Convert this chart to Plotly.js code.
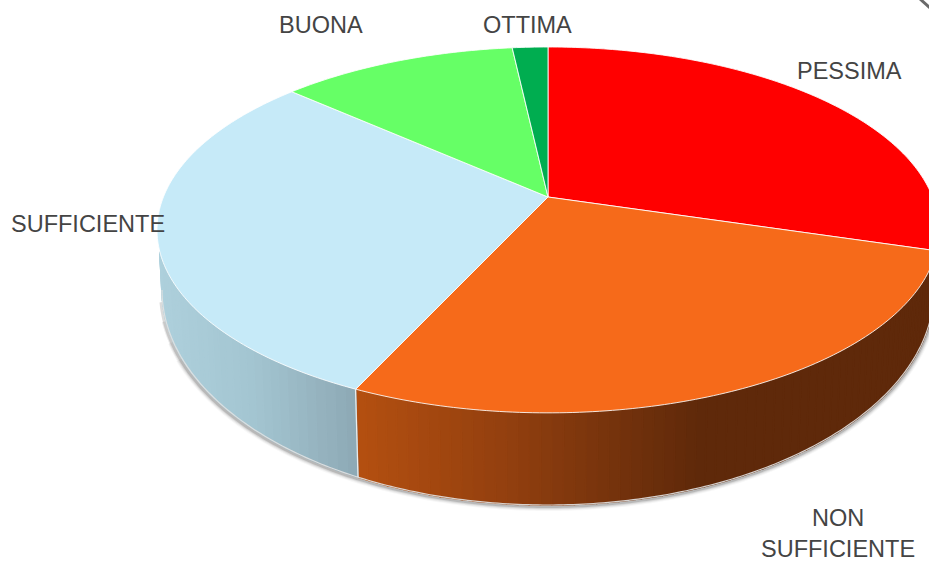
<!DOCTYPE html>
<html>
<head>
<meta charset="utf-8">
<script src="https://cdn.plot.ly/plotly-3.0.1.min.js"></script>
<style>html,body{margin:0;padding:0;background:#fff;overflow:hidden}#chart{width:929px;height:561px}</style>
</head>
<body>
<div id="chart"></div>
<script>
// Data (share of the pie, clockwise from 12 o'clock)
var categories = ["PESSIMA", "NON SUFFICIENTE", "SUFFICIENTE", "BUONA", "OTTIMA"];
var values = [29.65, 27.22, 29.73, 11.65, 1.75];
var topColors = ["#ff0000", "#f66a1a", "#c6eaf8", "#66ff66", "#00ad50"];
var labelText = ["PESSIMA", "NON<br>SUFFICIENTE", "SUFFICIENTE", "BUONA", "OTTIMA"];
var labelX = [849, 838, 88, 321, 527];
var labelY = [71, 533, 224, 25, 25];

// Shading of the visible outer wall: [pixel x, r, g, b]
var wallShades = {
  "NON SUFFICIENTE": [[360,179,79,16],[500,148,64,15],[620,115,50,12],[700,95,41,10],[940,95,41,10]],
  "SUFFICIENTE": [[157,174,208,220],[250,163,197,209],[300,153,184,196],[356,141,168,180]],
  "PESSIMA": [[900,120,0,0],[940,120,0,0]]
};

// Geometry of the projected disc, in plot units (axes below map them 1:1 to pixels)
var apexX = 548, apexY = 197, persp = 0.18, scaleB = 177, scaleA = 384.6;
var rimCy = 230, rimRx = 391, rimRy = 183;
var baseCy = 290, baseRx = 386, baseRy = 215;
var leftLimit = Math.PI - 0.12;

function rim(theta) {
  var u = Math.sin(theta), v = Math.cos(theta), d = 1 + persp * v;
  return [apexX + scaleA * u / d, apexY - scaleB * v / d];
}
function ellipseParam(p) {
  return Math.atan2((p[1] - rimCy) / rimRy, (p[0] - apexX) / rimRx);
}
function topAt(t) { return [apexX + rimRx * Math.cos(t), rimCy + rimRy * Math.sin(t)]; }
function baseAt(t) { return [apexX + baseRx * Math.cos(t), baseCy + baseRy * Math.sin(t)]; }
function shade(stops, x) {
  if (x <= stops[0][0]) return "rgb(" + stops[0].slice(1).join(",") + ")";
  for (var i = 1; i < stops.length; i++) {
    if (x <= stops[i][0]) {
      var f = (x - stops[i-1][0]) / (stops[i][0] - stops[i-1][0]), c = [];
      for (var j = 1; j < 4; j++) c.push(Math.round(stops[i-1][j] + f * (stops[i][j] - stops[i-1][j])));
      return "rgb(" + c.join(",") + ")";
    }
  }
  return "rgb(" + stops[stops.length-1].slice(1).join(",") + ")";
}

var total = values.reduce(function (a, b) { return a + b; }, 0);
var traces = [];
function poly(pts, fill, lineColor, lineWidth) {
  traces.push({
    type: "scatter", mode: "lines", hoverinfo: "skip", showlegend: false,
    x: pts.map(function (p) { return p[0]; }), y: pts.map(function (p) { return p[1]; }),
    fill: fill ? "toself" : "none", fillcolor: fill || undefined,
    line: { color: lineColor, width: lineWidth, simplify: false }
  });
}

// Soft shadow under the wall: wider layers stop earlier so it fades in at the left
var shadowLayers = [[9, "rgba(0,0,0,0.03)", 0.32], [7, "rgba(0,0,0,0.05)", 0.24], [5, "rgba(0,0,0,0.08)", 0.14], [3, "rgba(0,0,0,0.14)", 0.05]];
shadowLayers.forEach(function (s) {
  var pts = [], end = Math.PI - s[2];
  for (var i = 0; i <= 240; i++) {
    var t = end * i / 240, b = baseAt(t);
    pts.push([b[0] - 1.5 * Math.abs(Math.cos(t)) * (b[0] < apexX ? 1 : -0.3), b[1] + 1.5]);
  }
  poly(pts, null, s[1], s[0]);
});

// Wall strips, then the top wedges, both from the values
var wedges = [], cum = 0;
values.forEach(function (val, idx) {
  var a0 = 2 * Math.PI * cum / total;
  cum += val;
  wedges.push({ a0: a0, a1: 2 * Math.PI * cum / total, name: categories[idx], color: topColors[idx] });
});

wedges.forEach(function (w) {
  var stops = wallShades[w.name];
  if (!stops) return;
  var n = 70;
  for (var i = 0; i < n; i++) {
    var p1 = rim(w.a0 + (w.a1 - w.a0) * i / n), p2 = rim(w.a0 + (w.a1 - w.a0) * (i + 1) / n);
    var t1 = ellipseParam(p1), t2 = ellipseParam(p2);
    if (t1 < 0 && t2 < 0) continue;
    if (t1 < 0) t1 = t1 > -1 ? 0 : Math.PI;
    if (t2 < 0) t2 = t2 > -1 ? 0 : Math.PI;
    var tt1 = Math.min(t1, leftLimit), tt2 = Math.min(t2, leftLimit);
    var col = shade(stops, (topAt(t1)[0] + topAt(t2)[0]) / 2);
    poly([topAt(tt1), topAt(tt2), baseAt(t2), baseAt(t1), topAt(tt1)], col, col, 1.6);
  }
});

// Light rim along the bottom of the wall
var baseRim = [];
for (var bi = 0; bi <= 240; bi++) baseRim.push(baseAt(Math.PI * bi / 240));
poly(baseRim, null, "rgba(225,225,225,0.9)", 1.2);

// Light seam where the two visible walls meet
wedges.forEach(function (w) {
  if (w.name === "SUFFICIENTE") {
    var p = rim(w.a0), t = ellipseParam(p);
    poly([topAt(t), baseAt(t)], null, "rgba(240,240,240,0.95)", 1.2);
  }
});

wedges.forEach(function (w) {
  var pts = [[apexX, apexY]], n = Math.max(8, Math.ceil((w.a1 - w.a0) * 70));
  for (var i = 0; i <= n; i++) pts.push(rim(w.a0 + (w.a1 - w.a0) * i / n));
  pts.push([apexX, apexY]);
  poly(pts, w.color, "rgba(255,255,255,0.85)", 1);
});

var layout = {
  width: 929, height: 561,
  margin: { l: 0, r: 0, t: 0, b: 0 },
  paper_bgcolor: "#ffffff", plot_bgcolor: "#ffffff",
  showlegend: false, hovermode: false,
  xaxis: { range: [0, 929], visible: false, fixedrange: true },
  yaxis: { range: [561, 0], visible: false, fixedrange: true },
  shapes: [{ type: "line", xref: "x", yref: "y", x0: 920, y0: -1, x1: 930, y1: 8, line: { color: "#6a6a6a", width: 3 } }],
  annotations: labelText.map(function (t, i) {
    return {
      text: t, x: labelX[i], y: labelY[i], xref: "x", yref: "y", showarrow: false,
      xanchor: "center", yanchor: "middle", align: "center",
      font: { family: "Liberation Sans, Arial, sans-serif", size: 23.5, color: "#444444" }
    };
  })
};
Plotly.newPlot("chart", traces, layout, { displayModeBar: false, staticPlot: true });
</script>
</body>
</html>
